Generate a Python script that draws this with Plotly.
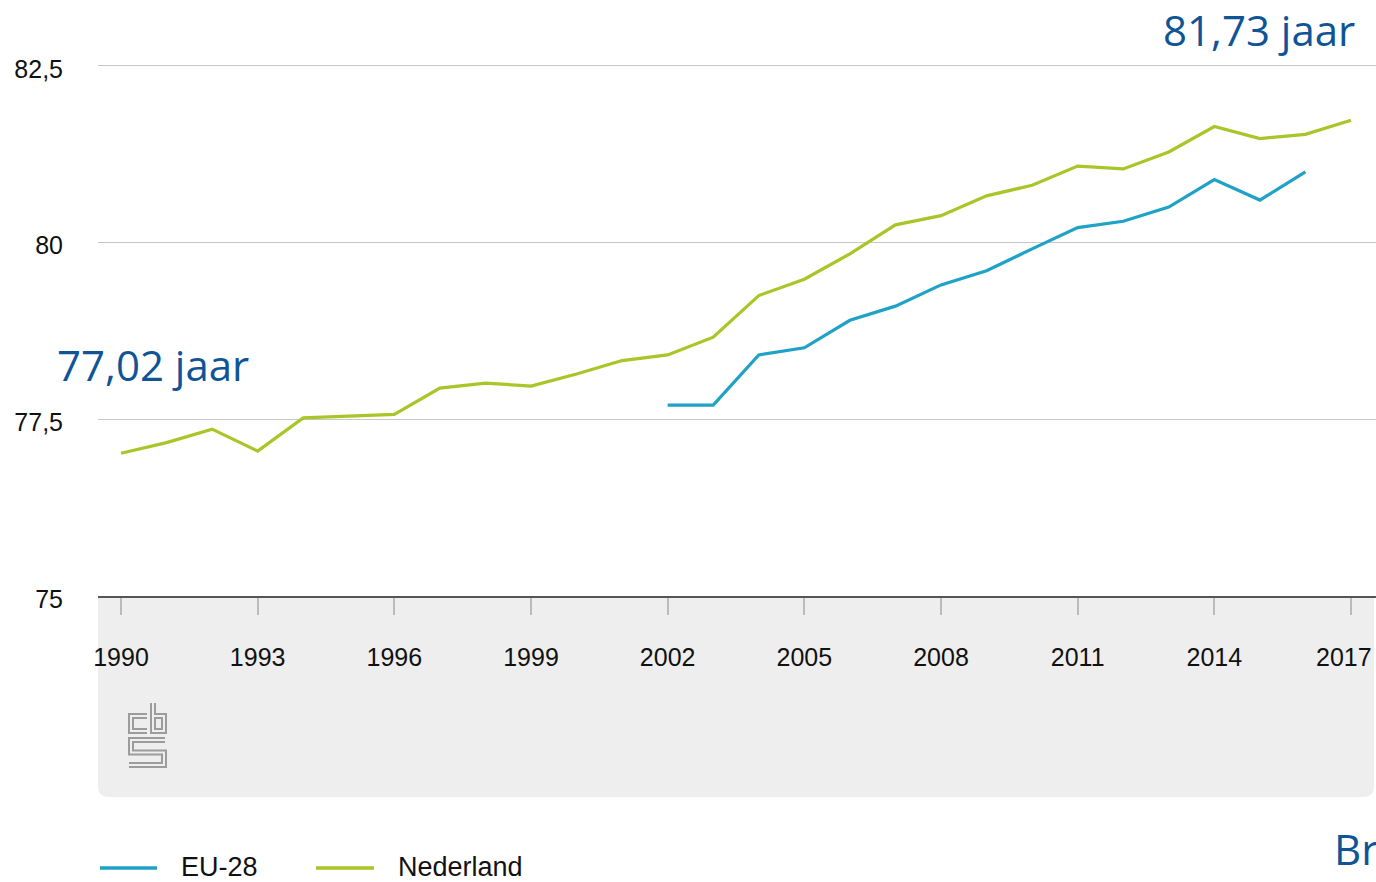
import plotly.graph_objects as go

# ---- data ----
years_nl = list(range(1990, 2018))
nederland = [77.02, 77.17, 77.36, 77.05, 77.52, 77.54, 77.57, 77.94, 78.01, 77.97,
             78.14, 78.33, 78.41, 78.66, 79.25, 79.48, 79.84, 80.25, 80.38, 80.66,
             80.81, 81.08, 81.04, 81.28, 81.64, 81.47, 81.53, 81.73]
years_eu = list(range(2002, 2017))
eu28 = [77.70, 77.70, 78.41, 78.51, 78.90, 79.10, 79.40, 79.60, 79.91, 80.21,
        80.30, 80.50, 80.89, 80.60, 81.00]
series_names = ["EU-28", "Nederland"]
x_ticks = list(range(1990, 2018, 3))
y_ticks = [75, 77.5, 80, 82.5]
label_start = "77,02 jaar"
label_end = "81,73 jaar"

# ---- style ----
W, H = 1376, 882
ML, MR, MT, MB = 98, 0, 0, 286
PW, PH = W - ML - MR, H - MT - MB
C_EU = "#1fa2c6"
C_NL = "#a8c628"
C_TXT = "#0f5596"
FONT = "Liberation Sans, Arial"


def px(x):
    return (x - ML) / PW


def py(y):
    return (MT + PH - y) / PH


def path(points):
    return "M" + " L".join(f"{px(x):.5f},{py(y):.5f}" for x, y in points)


fig = go.Figure()
fig.add_trace(go.Scatter(x=years_eu, y=eu28, mode="lines", name=series_names[0],
                         line=dict(color=C_EU, width=3.2), showlegend=False))
fig.add_trace(go.Scatter(x=years_nl, y=nederland, mode="lines", name=series_names[1],
                         line=dict(color=C_NL, width=3.2), showlegend=False))

shapes = []
# grey panel below the axis with rounded bottom corners
r = 11
x0, x1, y0, y1 = 98, 1374, 597, 797
panel = (f"M{px(x0)},{py(y0)} L{px(x1)},{py(y0)} L{px(x1)},{py(y1 - r)} "
         f"Q{px(x1)},{py(y1)} {px(x1 - r)},{py(y1)} L{px(x0 + r)},{py(y1)} "
         f"Q{px(x0)},{py(y1)} {px(x0)},{py(y1 - r)} Z")
shapes.append(dict(type="path", xref="paper", yref="paper", path=panel,
                   fillcolor="#eeeeee", line=dict(width=0), layer="below"))

# cbs logo (outlined strokes)
logo = [
    [(147, 716), (131, 716), (131, 731), (147, 731)],
    [(153, 703), (153, 731), (164, 731), (164, 716), (153, 716)],
    [(165, 740), (131, 740), (131, 752.5), (164, 752.5), (164, 765), (129, 765)],
]
for pts in logo:
    shapes.append(dict(type="path", xref="paper", yref="paper", path=path(pts),
                       line=dict(color="#9c9c9c", width=6)))
for pts in logo:
    shapes.append(dict(type="path", xref="paper", yref="paper", path=path(pts),
                       line=dict(color="#eeeeee", width=2)))

# manual legend
LEG_Y = 867
legend_items = [(series_names[0], C_EU, 100, 157, 179),
                (series_names[1], C_NL, 316, 374, 396)]
annotations = []
for name, col, lx0, lx1, tx in legend_items:
    shapes.append(dict(type="line", xref="paper", yref="paper",
                       x0=px(lx0), x1=px(lx1), y0=py(868), y1=py(868),
                       line=dict(color=col, width=3.5)))
    annotations.append(dict(xref="paper", yref="paper", x=px(tx), y=py(LEG_Y),
                            xanchor="left", yanchor="middle", showarrow=False,
                            text=name, font=dict(family=FONT, size=27, color="#111111")))

# last x tick label (pulled left so it stays inside the page, as in the source)
annotations.append(dict(xref="x", yref="paper", x=x_ticks[-1], xshift=-7,
                        y=py(657), xanchor="center", yanchor="middle",
                        showarrow=False, text=str(x_ticks[-1]),
                        font=dict(family=FONT, size=25, color="#111111")))

annotations += [
    dict(xref="paper", yref="paper", x=px(55), y=py(365), xanchor="left",
         yanchor="middle", showarrow=False, text=label_start,
         font=dict(family="Open Sans", size=42, color=C_TXT)),
    dict(xref="paper", yref="paper", x=px(1357), y=py(30), xanchor="right",
         yanchor="middle", showarrow=False, text=label_end,
         font=dict(family="Open Sans", size=42, color=C_TXT)),
    dict(xref="paper", yref="paper", x=px(1332), y=py(848), xanchor="left",
         yanchor="middle", showarrow=False, text="Br",
         font=dict(family="Open Sans", size=42, color=C_TXT)),
]

fig.update_layout(
    width=W, height=H,
    margin=dict(l=ML, r=MR, t=MT, b=MB, pad=0),
    paper_bgcolor="white", plot_bgcolor="white",
    separators=",.",
    showlegend=False,
    shapes=shapes,
    annotations=annotations,
    font=dict(family=FONT, size=25, color="#111111"),
)
fig.update_xaxes(
    range=[1990 - 23 / 45.56, 2017 + 25 / 45.56],
    tickvals=x_ticks, ticktext=[str(v) for v in x_ticks[:-1]] + [""],
    showgrid=False, zeroline=False,
    showline=True, linecolor="#555555", linewidth=2,
    ticks="outside", ticklen=17, tickwidth=2, tickcolor="#bbbbbb",
    ticklabelstandoff=21,
    tickfont=dict(size=25, color="#111111"),
)
fig.update_yaxes(
    range=[75, 75 + PH / 70.7],
    tickvals=y_ticks,
    showgrid=True, gridcolor="#c8c8c8", gridwidth=1,
    zeroline=False, showline=False, ticks="",
    ticklabelstandoff=34, ticklabelshift=3,
    tickfont=dict(size=25, color="#111111"),
)

fig.write_html("out.html")
